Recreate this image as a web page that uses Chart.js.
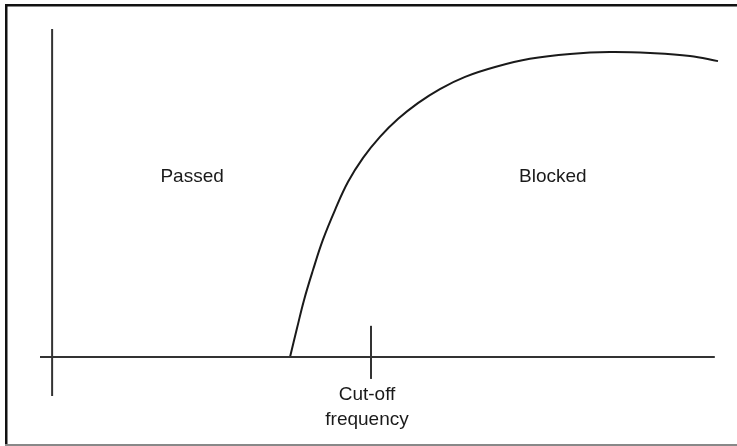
<!DOCTYPE html>
<html>
<head>
<meta charset="utf-8">
<script src="https://cdn.jsdelivr.net/npm/chart.js@4.4.1/dist/chart.umd.min.js"></script>
<style>
  html, body { margin: 0; padding: 0; background: #fff; }
  #wrap { width: 737px; height: 446px; position: relative; }
</style>
</head>
<body>
<div id="wrap"><canvas id="c" width="737" height="446"></canvas></div>
<script>
// Frequency (arbitrary units, cut-off at 10) and attenuation (0–100) of the high-cut response
const frequency   = [7.46, 7.68, 7.90, 8.18, 8.49, 8.87, 9.28, 9.75, 10.28, 10.85, 11.47, 12.16, 12.95, 13.89, 14.98, 16.24, 17.49, 18.75, 20.00, 20.88];
const attenuation = [0, 8.8, 17.4, 26.5, 35.7, 44.8, 53.4, 60.7, 67.1, 72.6, 77.4, 81.7, 85.4, 88.4, 90.9, 92.4, 93.0, 92.7, 91.8, 90.2];

const cutoff = 10;
const xRange = [-0.38, 20.88];
const yRange = [-11.9, 100];
const xAxisEnd = 20.78;
const tickSpan = [-6.7, 9.5];

const regionLabels = ['Passed', 'Blocked'];
const cutoffLabel = ['Cut-off', 'frequency'];

const ink = '#1a1a1a';
const FONT = '19px "Liberation Sans", Arial, Helvetica, sans-serif';

const curve = frequency.map((f, i) => ({ x: f, y: attenuation[i] }));

// Text placed in data units
const labelPlugin = {
  id: 'labels',
  afterDatasetsDraw(chart) {
    const { ctx, scales: { x, y } } = chart;
    ctx.save();
    ctx.fillStyle = ink;
    ctx.font = FONT;
    ctx.textAlign = 'center';
    ctx.textBaseline = 'alphabetic';
    const regionAt = [[4.39, 53.4], [15.7, 53.4]];
    regionLabels.forEach((t, i) => {
      ctx.fillText(t, x.getPixelForValue(regionAt[i][0]), y.getPixelForValue(regionAt[i][1]));
    });
    const cx = x.getPixelForValue(cutoff) - 4;
    const base = y.getPixelForValue(0);
    cutoffLabel.forEach((t, i) => ctx.fillText(t, cx, base + 43 + i * 25));
    ctx.restore();
  }
};

// Frame around the figure
const framePlugin = {
  id: 'frame',
  beforeDraw(chart) {
    const ctx = chart.ctx;
    ctx.save();
    ctx.fillStyle = '#fff';
    ctx.fillRect(0, 0, chart.width, chart.height);
    ctx.fillStyle = '#111';
    ctx.fillRect(5, 4, chart.width - 5, 2.5);
    ctx.fillRect(5, 4, 2.5, chart.height - 4);
    ctx.fillStyle = '#888';
    ctx.fillRect(5, chart.height - 2, chart.width - 5, 2);
    ctx.restore();
  }
};

const lineStyle = { showLine: true, pointRadius: 0, borderWidth: 2, borderColor: '#333', fill: false, tension: 0 };

new Chart(document.getElementById('c'), {
  type: 'scatter',
  data: {
    datasets: [
      { ...lineStyle, data: [{ x: 0, y: yRange[0] }, { x: 0, y: yRange[1] }] },
      { ...lineStyle, data: [{ x: xRange[0], y: 0 }, { x: xAxisEnd, y: 0 }] },
      { ...lineStyle, data: [{ x: cutoff, y: tickSpan[0] }, { x: cutoff, y: tickSpan[1] }] },
      { ...lineStyle, borderColor: ink, tension: 0.4, data: curve }
    ]
  },
  options: {
    responsive: false,
    animation: false,
    clip: false,
    layout: { padding: { left: 40, right: 19, top: 29, bottom: 50 } },
    plugins: { legend: { display: false }, tooltip: { enabled: false } },
    scales: {
      x: { type: 'linear', min: xRange[0], max: xRange[1], display: false },
      y: { type: 'linear', min: yRange[0], max: yRange[1], display: false }
    }
  },
  plugins: [framePlugin, labelPlugin]
});
</script>
</body>
</html>
